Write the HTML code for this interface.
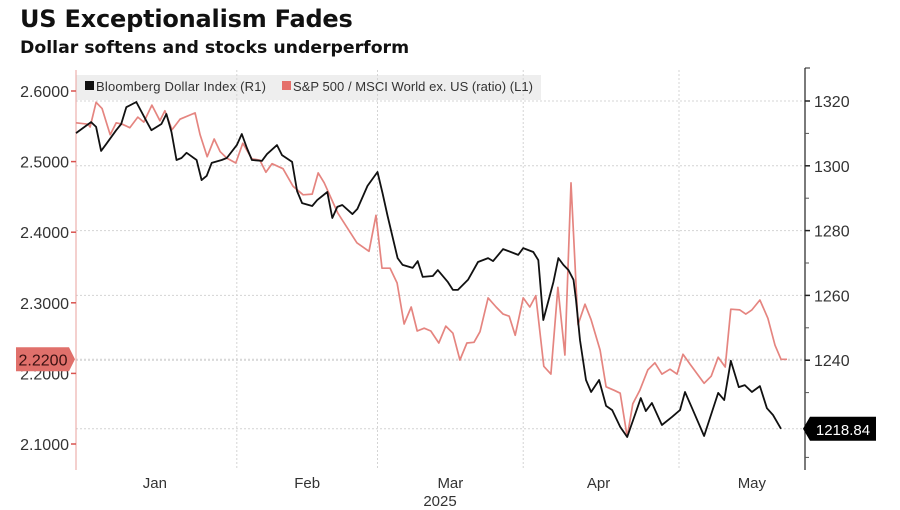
<!DOCTYPE html>
<html><head><meta charset="utf-8">
<style>
html,body{margin:0;padding:0;background:#fff;width:900px;height:510px;overflow:hidden}
.t{position:absolute;left:20px;top:5px;font:bold 24px "DejaVu Sans",sans-serif;color:#111;letter-spacing:-0.2px}
.s{position:absolute;left:20px;top:38px;font:bold 17.3px "DejaVu Sans",sans-serif;color:#111}
svg{position:absolute;left:0;top:0}
svg text{font-family:"Liberation Sans",sans-serif}
</style></head><body>
<div class="t">US Exceptionalism Fades</div>
<div class="s">Dollar softens and stocks underperform</div>
<svg id="c" width="900" height="510"></svg>
<script>
const dxyDays=[0,3,4,5,6,8,9,10,12,14,15,17,18,19,20,21,22,24,25,26,27,29,30,32,33,34,35,37,38,40,41,43,44,45,47,48,50,51,52,53,55,56,58,60,61,62,64,65,67,68,69,71,72,74,75,76,78,80,82,83,85,86,88,89,91,92,93,95,96,97,98,99,99.5,100.3,101.5,102.5,104.1,105.5,106.7,108.3,109.7,112.4,113.4,114.6,116.6,118.6,120.2,121.2,122.6,125,127.8,129,130.3,131.9,133.1,134.5,136.1,137.5,138.7,140.3];
const dxyVals=[1310.1,1313.5,1312.0,1304.6,1306.7,1311.0,1312.9,1318.1,1319.7,1313.8,1311.0,1312.9,1316.0,1310.4,1301.8,1302.4,1304.0,1301.8,1295.6,1296.9,1300.9,1301.8,1302.4,1306.4,1309.8,1305.5,1301.8,1301.5,1303.6,1306.4,1303.3,1301.2,1292.2,1288.5,1287.6,1289.4,1291.9,1283.9,1287.3,1287.9,1285.1,1286.7,1293.8,1298.1,1291.6,1284.5,1271.5,1269.4,1268.5,1270.6,1265.7,1266.0,1267.8,1264.1,1261.7,1261.7,1264.8,1270.3,1271.5,1270.6,1274.3,1273.7,1272.5,1274.6,1273.4,1270.9,1252.4,1264.1,1271.5,1269.4,1267.8,1264.8,1258.6,1246.2,1233.9,1230.2,1233.9,1225.9,1224.6,1219.4,1216.3,1228.3,1224.3,1226.8,1220.0,1222.5,1224.6,1230.2,1225.2,1216.6,1229.9,1227.7,1239.8,1231.7,1232.3,1230.2,1232.0,1225.2,1223.1,1218.84];
const ratioDays=[0,2.4,2.8,4,5.2,6.8,8,9.2,10.7,12.3,13.5,15.1,16.7,17.7,19.1,20.7,23.7,24.7,26.1,27.5,28.7,30,31.8,33.2,35,36.6,37.8,39,41.2,43.2,45.2,47,48.2,49.4,52.1,55.9,58.3,59.7,60.9,62.5,63.9,65.3,66.7,67.9,69.3,70.6,72.2,73.6,75,76.4,77.8,79.2,80.4,82,83.6,85,86.2,87.4,89,90.3,91.5,93.1,94.5,95.9,97.3,98.5,99.9,101.3,102.5,104.3,105.5,107.1,108.3,109.7,110.8,112.2,113.8,115.2,116.6,118.2,119.6,120.8,122.2,125,126.4,127.8,129.2,130.3,132.1,133.3,134.5,136.1,137.7,139.1,140.3,141.5];
const ratioVals=[2.555,2.553,2.549,2.584,2.575,2.538,2.555,2.553,2.548,2.563,2.556,2.580,2.558,2.572,2.545,2.560,2.569,2.538,2.507,2.532,2.514,2.505,2.498,2.526,2.504,2.502,2.485,2.497,2.490,2.465,2.453,2.454,2.484,2.470,2.427,2.385,2.373,2.424,2.349,2.349,2.328,2.270,2.294,2.260,2.264,2.260,2.243,2.267,2.257,2.219,2.243,2.244,2.259,2.307,2.294,2.284,2.281,2.254,2.307,2.294,2.310,2.210,2.199,2.322,2.226,2.470,2.269,2.298,2.276,2.233,2.181,2.176,2.172,2.110,2.157,2.176,2.205,2.215,2.199,2.206,2.199,2.227,2.213,2.186,2.196,2.223,2.209,2.291,2.290,2.284,2.290,2.304,2.278,2.240,2.220,2.220];
const leftTicks=[2.6,2.5,2.4,2.3,2.2,2.1];
const rightTicks=[1320,1300,1280,1260,1240];
const rightMinor=[1310,1290,1270,1250,1230,1210];
const monthNames=["Jan","Feb","Mar","Apr","May"];
const monthStarts=[32,60,89,120];
const monthMid=[15.7,46,74.5,104,134.5];

const X0=76,X1=805,TOP=70,BOT=470;
const xs=d=>76+d*5.025;
const yL=v=>91+(2.6-v)*706;
const yR=v=>101+(1320-v)*3.24;
const svg=document.getElementById('c');
const NS='http://www.w3.org/2000/svg';
function mk(tag,attrs,parent){const e=document.createElementNS(NS,tag);for(const k in attrs)e.setAttribute(k,attrs[k]);(parent||svg).appendChild(e);return e;}

let lg=mk('rect',{x:X0,y:TOP+5,width:465,height:25,fill:'#eeeeee'});



monthStarts.forEach(d=>{
  let l=mk('line',{x1:xs(d),x2:xs(d),y1:TOP,y2:BOT,stroke:'#d4d4d4','stroke-dasharray':'2,2'});
  
  
});
rightTicks.forEach(v=>{
  let l=mk('line',{x1:X0,x2:X1,y1:yR(v),y2:yR(v),stroke:'#d4d4d4','stroke-dasharray':'2,2'});
  
  
});
let lastR=ratioVals[ratioVals.length-1], lastD=dxyVals[dxyVals.length-1];
[yL(lastR),yR(lastD)].forEach(y=>{
  let l=mk('line',{x1:X0,x2:X1,y1:y,y2:y,stroke:'#d4d4d4','stroke-dasharray':'2,2'});
  
  
});

let la=mk('line',{x1:X0,x2:X0,y1:TOP,y2:BOT,stroke:'#e9a19e','stroke-width':1});


let ra=mk('line',{x1:X1,x2:X1,y1:TOP-2,y2:BOT,stroke:'#222','stroke-width':1.2});


mk('line',{x1:X1,x2:X1+5,y1:TOP-2,y2:TOP-2,stroke:'#222'});

leftTicks.forEach(v=>{
  let y=yL(v);
  mk('line',{x1:X0-5,x2:X0,y1:y,y2:y,stroke:'#d9534f','stroke-width':1.5});
  let t=mk('text',{x:X0-7,y:y+6,'text-anchor':'end','font-size':16,fill:'#333'});
  t.textContent=v.toFixed(4);
  
  
});
rightTicks.forEach(v=>{
  let y=yR(v);
  mk('line',{x1:X1,x2:X1+5,y1:y,y2:y,stroke:'#222','stroke-width':1.5});
  let t=mk('text',{x:X1+9,y:y+6,'font-size':16,fill:'#333'});
  t.textContent=v;
  
  
});
rightMinor.forEach(v=>{
  let y=yR(v);
  mk('line',{x1:X1,x2:X1+4,y1:y,y2:y,stroke:'#555','stroke-width':1});
});
monthNames.forEach((m,i)=>{
  let t=mk('text',{x:xs(monthMid[i]),y:488,'text-anchor':'middle','font-size':15,fill:'#333'});
  t.textContent=m;
  
  
});
let yr=mk('text',{x:440,y:506,'text-anchor':'middle','font-size':15,fill:'#333'});
yr.textContent='2025';



let rp=ratioDays.map((d,i)=>xs(d).toFixed(1)+','+yL(ratioVals[i]).toFixed(1)).join(' ');
let rl=mk('polyline',{points:rp,fill:'none',stroke:'#e58580','stroke-width':1.7,'stroke-linejoin':'round'});


let dp=dxyDays.map((d,i)=>xs(d).toFixed(1)+','+yR(dxyVals[i]).toFixed(1)).join(' ');
let dl=mk('polyline',{points:dp,fill:'none',stroke:'#111','stroke-width':1.8,'stroke-linejoin':'round'});



let g1=mk('g',{});


mk('rect',{x:85,y:81,width:9,height:9,fill:'#111'},g1);
let t1=mk('text',{x:96,y:91,'font-size':13,fill:'#333',textLength:170},g1);t1.textContent='Bloomberg Dollar Index (R1)';
let g2=mk('g',{});


mk('rect',{x:282,y:81,width:9,height:9,fill:'#e5706b'},g2);
let t2=mk('text',{x:293,y:91,'font-size':13,fill:'#333',textLength:240},g2);t2.textContent='S&P 500 / MSCI World ex. US (ratio) (L1)';

let yl=yL(lastR);
let g3=mk('g',{});


mk('path',{d:`M16 ${yl-12} H69 L75 ${yl} L69 ${yl+12} H16 Z`,fill:'#e0706b'},g3);
let t3=mk('text',{x:43,y:yl+6,'text-anchor':'middle','font-size':16,fill:'#3a1010'},g3);t3.textContent=lastR.toFixed(4);
let yd=yR(lastD);
let g4=mk('g',{});


mk('path',{d:`M803 ${yd} L810 ${yd-12} H876 V${yd+12} H810 Z`,fill:'#000'},g4);
let t4=mk('text',{x:843,y:yd+6,'text-anchor':'middle','font-size':15,fill:'#fff'},g4);t4.textContent=lastD.toFixed(2);
</script>
</body></html>
